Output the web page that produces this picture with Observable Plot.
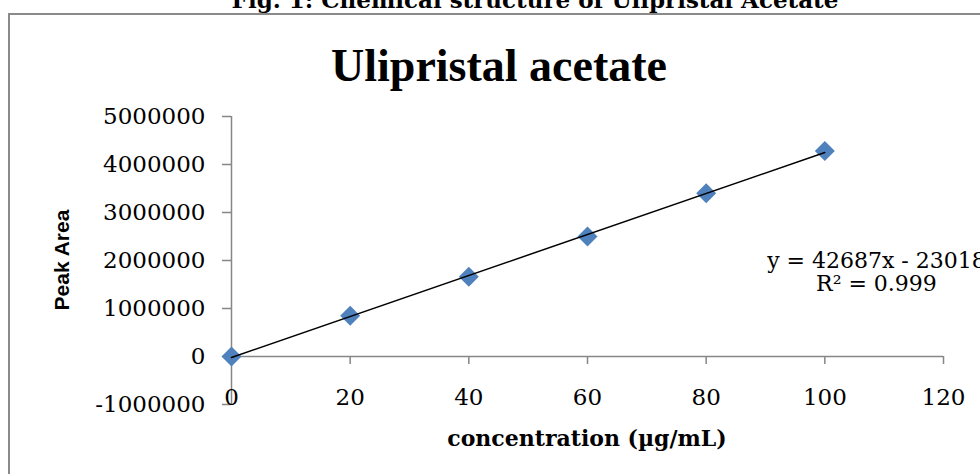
<!DOCTYPE html>
<html>
<head>
<meta charset="utf-8">
<script src="https://cdn.jsdelivr.net/npm/d3@7"></script>
<script src="https://cdn.jsdelivr.net/npm/@observablehq/plot@0.6"></script>
<style>
  html, body { margin: 0; padding: 0; background: #fff; }
  #wrap { position: relative; width: 980px; height: 474px; overflow: hidden; background: #fff; }
  #box { position: absolute; left: 8px; top: 13px; width: 1100px; height: 600px; border: 2px solid #8a8a8a; box-sizing: border-box; }
  .lbl { position: absolute; white-space: nowrap; line-height: 1; color: #000; }
  #fig { left: 535px; top: -14px; transform: translateX(-50%); font: bold 23px "DejaVu Serif"; }
  #title { left: 499px; top: 39px; transform: translateX(-50%); font: bold 46px "Liberation Serif"; }
  #ylab { left: 62px; top: 260px; transform: translate(-50%, -50%) rotate(-90deg); font: bold 21px "Liberation Sans"; }
  #xlab { left: 587px; top: 425px; transform: translateX(-50%); font: bold 22px "DejaVu Serif"; }
  #chart { position: absolute; left: 0; top: 0; }
</style>
</head>
<body>
<div id="wrap">
  <div id="box"></div>
  <div id="chart"></div>
  <div class="lbl" id="fig">Fig. 1: Chemical structure of Ulipristal Acetate</div>
  <div class="lbl" id="title">Ulipristal acetate</div>
  <div class="lbl" id="ylab">Peak Area</div>
  <div class="lbl" id="xlab">concentration (µg/mL)</div>
</div>
<script>
// Data
const concentration = [0, 20, 40, 60, 80, 100];
const peakArea = [0, 850000, 1660000, 2500000, 3400000, 4280000];
const xTicks = [0, 20, 40, 60, 80, 100, 120];
const yTicks = [-1000000, 0, 1000000, 2000000, 3000000, 4000000, 5000000];
const equationText = "y = 42687x - 23018\nR² = 0.999";

const data = concentration.map((c, i) => ({c, a: peakArea[i]}));

const W = 980, H = 474, mt = 116, mb = 70, ml = 231, mr = 37;
const yDomain = [yTicks[0], yTicks[yTicks.length - 1]];
const xDomain = [xTicks[0], xTicks[xTicks.length - 1]];
// pixel offset of the y=0 line above the frame bottom (derived from the scale)
const zeroOffset = (H - mt - mb) * (0 - yDomain[0]) / (yDomain[1] - yDomain[0]);
const axisGray = "#868686";

const chart = Plot.plot({
  width: W, height: H,
  marginTop: mt, marginBottom: mb, marginLeft: ml, marginRight: mr,
  style: { background: "transparent", fontFamily: "DejaVu Serif", fontSize: "23px", color: "#000", overflow: "visible" },
  x: { domain: xDomain },
  y: { domain: yDomain },
  marks: [
    Plot.ruleY([0], { stroke: axisGray, strokeWidth: 1.5 }),
    Plot.ruleX([0], { stroke: axisGray, strokeWidth: 1.5 }),
    Plot.axisY({ ticks: yTicks, tickSize: 9, tickPadding: 17, tickFormat: d => String(d), stroke: axisGray, fill: "#000", strokeWidth: 1.5, fontSize: 23, label: null }),
    Plot.axisX({ ticks: xTicks, tickSize: 8, tickFormat: () => "", stroke: axisGray, strokeWidth: 1.5, dy: -zeroOffset, label: null }),
    Plot.axisX({ ticks: xTicks, tickSize: 0, tickPadding: -16, tickFormat: d => String(d), fill: "#000", fontSize: 23, label: null }),
    Plot.dot(data, { x: "c", y: "a", symbol: "diamond2", r: 9, fill: "#4F81BD", stroke: "none" }),
    Plot.linearRegressionY(data, { x: "c", y: "a", ci: 0, stroke: "#000", strokeWidth: 1.5 }),
    Plot.text([equationText], { x: () => 108.7, y: () => 1760000, text: d => d, textAnchor: "middle", lineAnchor: "middle", lineHeight: 1.05, fontSize: 22, fontFamily: "DejaVu Serif", fill: "#000" })
  ]
});
document.getElementById("chart").appendChild(chart);
</script>
</body>
</html>
